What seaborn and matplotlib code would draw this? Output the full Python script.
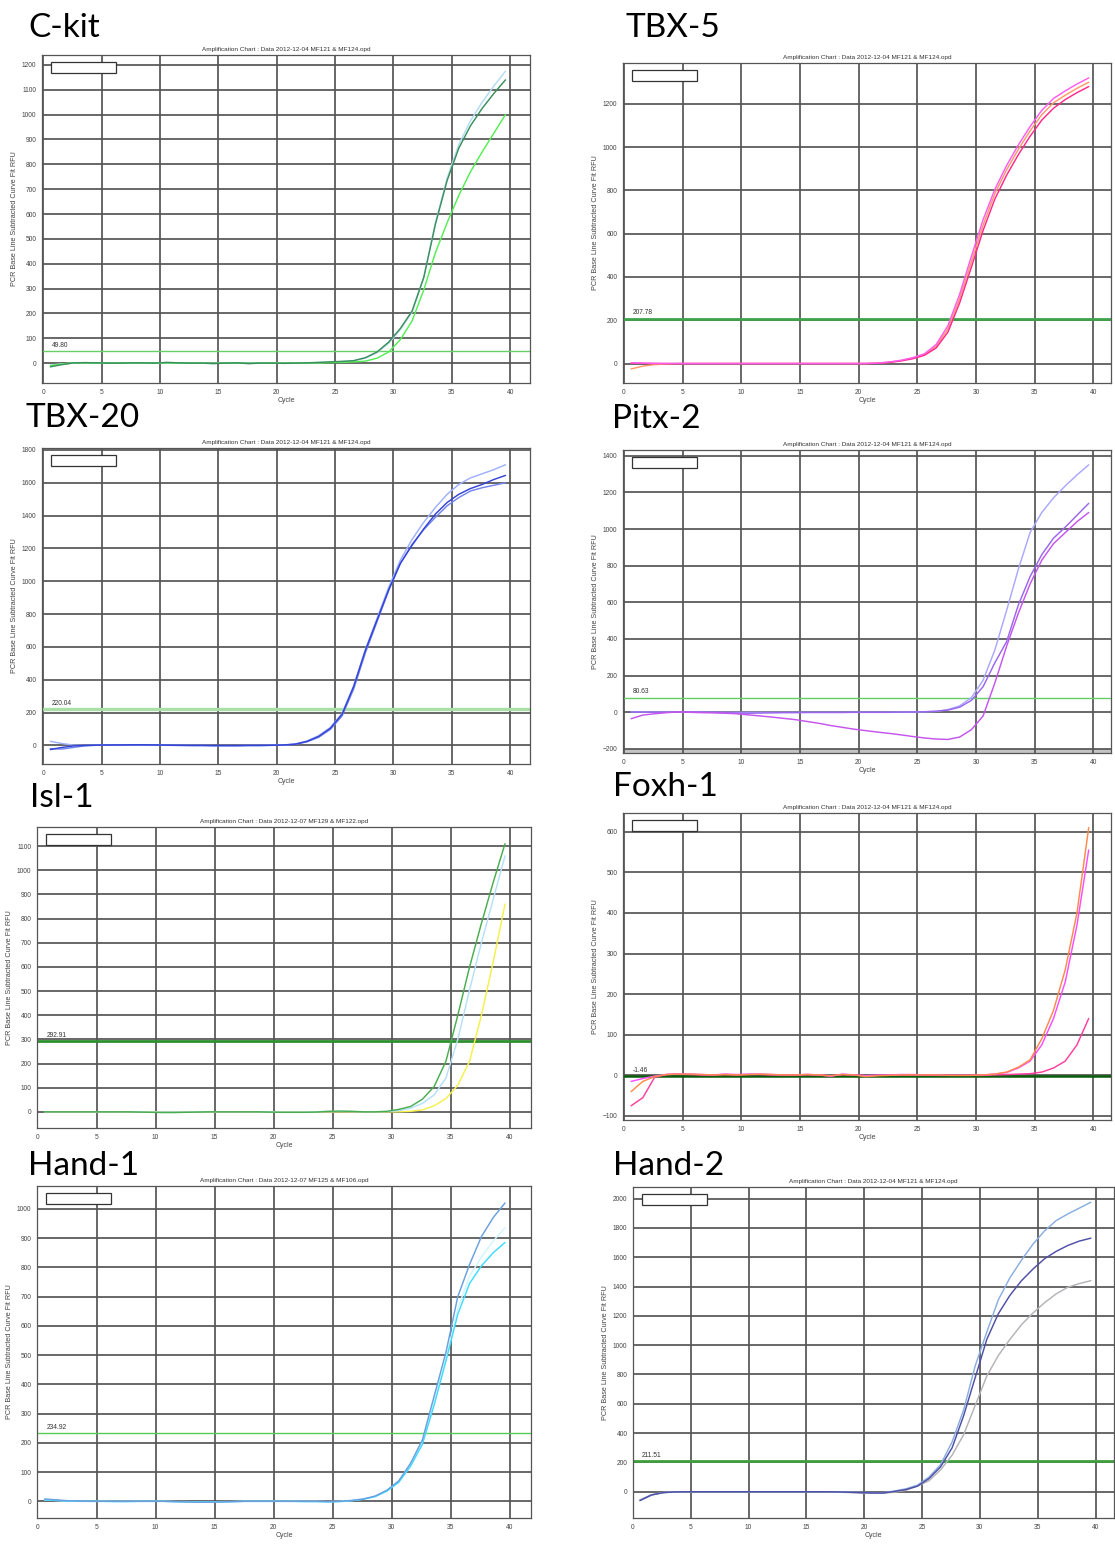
import numpy as np
import matplotlib
matplotlib.use("Agg")
import matplotlib.pyplot as plt
from matplotlib.patches import Rectangle
from matplotlib.ticker import MultipleLocator, AutoMinorLocator
import seaborn as sns

sns.set_style("white")
plt.rcParams['font.family'] = ['Liberation Sans', 'DejaVu Sans']

# ---------------- data ----------------
cycles = np.arange(40) + 0.6

gene_names = ["C-kit", "TBX-5", "TBX-20", "Pitx-2", "Isl-1", "Foxh-1", "Hand-1", "Hand-2"]
chart_titles = [
    "Amplification Chart : Data 2012-12-04 MF121 & MF124.opd",
    "Amplification Chart : Data 2012-12-04 MF121 & MF124.opd",
    "Amplification Chart : Data 2012-12-04 MF121 & MF124.opd",
    "Amplification Chart : Data 2012-12-04 MF121 & MF124.opd",
    "Amplification Chart : Data 2012-12-07 MF129 & MF122.opd",
    "Amplification Chart : Data 2012-12-04 MF121 & MF124.opd",
    "Amplification Chart : Data 2012-12-07 MF125 & MF106.opd",
    "Amplification Chart : Data 2012-12-04 MF121 & MF124.opd",
]
thresholds = [49.80, 207.78, 220.04, 80.63, 292.91, -1.46, 234.92, 211.51]
threshold_labels = ["49.80", "207.78", "220.04", "80.63", "292.91", "-1.46", "234.92", "211.51"]

ckit_ltblue = [-8, -3, 0, 1, 0, 0, 0, 0, 1, 0,
               1, 0, 0, 0, -1, 0, 0, 0, 0, 0,
               0, 0, 1, 2, 4, 6, 9, 20, 42, 80,
               135, 205, 345, 565, 745, 880, 975, 1050, 1115, 1175]
ckit_green = [-10, -4, 1, 1, 0, 0, 0, 1, 1, 0,
              1, 0, 0, 0, -1, 0, 0, -1, 0, 0,
              0, 0, 0, 1, 2, 3, 5, 8, 20, 45,
              95, 170, 295, 445, 565, 675, 770, 850, 925, 1000]
ckit_dkgreen = [-15, -6, 1, 2, 1, 0, 0, 1, 1, 0,
                3, 1, 0, 0, -2, 0, 1, -2, 0, 0,
                -1, 0, 1, 3, 5, 7, 10, 22, 45, 85,
                140, 210, 345, 560, 735, 865, 955, 1025, 1085, 1140]

tbx5_orange = [-25, -12, -5, -2, 0, 0, 0, 0, 0, 0,
               0, 0, 0, 0, 0, 0, 0, 0, 0, 0,
               0, 2, 6, 14, 25, 42, 80, 160, 300, 470,
               640, 785, 895, 990, 1075, 1150, 1205, 1240, 1272, 1300]
tbx5_magenta = [3, 2, 1, 0, 0, 0, 0, 0, 0, 0,
                0, 0, 0, 0, 0, 0, 0, 0, 0, 0,
                0, 2, 7, 15, 27, 45, 88, 175, 320, 495,
                665, 805, 915, 1010, 1095, 1170, 1225, 1260, 1292, 1320]
tbx5_pink = [2, 1, 0, 0, 0, 0, 0, 0, 0, 0,
             0, 0, 0, 0, 0, 0, 0, 0, 0, 0,
             0, 1, 5, 12, 22, 38, 72, 145, 280, 445,
             615, 760, 870, 965, 1050, 1125, 1180, 1220, 1252, 1280]

tbx20_light = [25, 12, 2, 0, 2, 3, 3, 3, 3, 2,
               1, 1, 0, 0, -1, -1, -1, 0, 0, 1,
               3, 9, 27, 60, 110, 195, 365, 585, 775, 965,
               1130, 1255, 1360, 1450, 1530, 1590, 1630, 1655, 1680, 1710]
tbx20_mid = [-20, -22, -12, -2, 1, 2, 3, 3, 3, 2,
             1, 0, 0, 0, -1, -1, -1, 0, 0, 1,
             2, 7, 22, 50, 98, 180, 345, 565, 755, 945,
             1110, 1225, 1315, 1390, 1460, 1510, 1550, 1570, 1585, 1600]
tbx20_dark = [-25, -12, -3, 0, 2, 3, 3, 4, 4, 3,
              2, 1, 0, 0, -1, -1, -1, 0, 0, 1,
              3, 8, 25, 55, 105, 190, 360, 580, 765, 950,
              1110, 1220, 1320, 1410, 1480, 1530, 1565, 1590, 1620, 1645]

pitx_light = [3, 2, 1, 1, 3, 2, 1, 0, 0, 0,
              0, 0, 0, 0, 0, 0, 0, 0, 0, 0,
              0, 0, 0, 1, 2, 3, 5, 15, 35, 80,
              175, 340, 555, 780, 980, 1090, 1170, 1235, 1295, 1350]
pitx_mid = [2, 1, 0, 0, 3, 2, 1, 0, -2, -4,
            -5, -4, -3, -2, -2, -1, -1, -1, -1, 0,
            0, 0, 0, 1, 2, 3, 6, 12, 28, 65,
            140, 270, 385, 585, 740, 860, 950, 1010, 1075, 1140]
pitx_magenta = [-35, -15, -8, -2, 2, 0, -2, -3, -5, -8,
                -14, -20, -26, -33, -40, -50, -60, -72, -82, -92,
                -100, -108, -115, -123, -132, -140, -146, -148, -135, -95,
                -20, 160, 360, 540, 700, 830, 920, 980, 1040, 1090]

isl_yellow = [0, 0, 0, 0, 0, 0, 0, 0, 0, 0,
              -1, -1, -1, 0, 0, 0, 0, 0, 0, 0,
              0, 0, 0, 0, 0, 0, 0, 0, 0, 0,
              0, 2, 8, 25, 55, 110, 210, 400, 620, 860]
isl_ltblue = [0, 0, 0, 0, 0, 0, 0, 0, 0, -1,
              -1, -1, -1, 0, 0, 0, 0, 0, 0, 0,
              -1, -1, -1, 0, 1, 2, 1, 0, 0, 1,
              5, 15, 35, 70, 140, 300, 505, 700, 880, 1060]
isl_green = [0, 0, 0, 0, 0, 0, 0, 0, -1, -2,
             -3, -3, -2, -1, 0, 0, 0, 0, 0, -1,
             -2, -2, -2, -1, 2, 3, 2, 0, 0, 2,
             10, 22, 52, 105, 210, 400, 600, 780, 950, 1110]

fox_orange = [-40, -15, -3, 2, 3, 3, 2, 1, 2, 1,
              2, 3, 2, 1, 1, 2, 1, -1, 2, 1,
              -3, -1, 0, 1, 1, 1, 1, 0, 0, 0,
              1, 3, 8, 20, 38, 90, 160, 260, 400, 610]
fox_magenta = [-15, -8, -2, 2, 3, 3, 2, 1, 3, 2,
               3, 3, 2, 1, 1, 2, 1, -2, 3, 1,
               -1, 0, 1, 2, 2, 1, 1, 0, 0, 0,
               1, 3, 7, 18, 35, 75, 140, 230, 370, 555]
fox_pink = [-75, -55, -5, 2, 3, 2, 1, 1, 2, 1,
            2, 2, 1, 1, 1, 2, 1, -2, 2, 1,
            -1, 0, 0, 1, 1, 1, 0, 0, 0, 0,
            0, 1, 2, 3, 4, 8, 18, 35, 75, 140]

hand1_pale = [5, 3, 1, 0, 0, 0, 0, 0, 0, 0,
              0, -1, -1, -2, -2, -1, -1, 0, 0, 0,
              0, 0, 0, 0, -1, 0, 3, 8, 17, 37,
              68, 125, 205, 345, 490, 660, 770, 835, 890, 935]
hand1_cyan = [5, 3, 1, 0, 0, 0, -1, -1, 0, 0,
              0, -1, -2, -2, -2, -2, -1, 0, 0, 0,
              0, 0, -1, -1, -2, -1, 2, 7, 16, 35,
              65, 120, 195, 330, 480, 640, 745, 805, 850, 885]
hand1_blue = [8, 5, 2, 1, 0, 0, 0, 0, 0, 0,
              0, -1, -2, -3, -3, -2, -1, 0, 0, 0,
              0, 0, 0, 0, -1, 0, 3, 8, 18, 38,
              70, 130, 210, 360, 510, 700, 810, 905, 970, 1020]

hand2_gray = [-55, -20, -5, -1, 0, 0, 0, 0, 0, 0,
              0, 0, 0, 0, 0, 0, 0, -2, -5, -8,
              -10, -10, -3, 10, 40, 75, 150, 250, 390, 590,
              790, 930, 1040, 1140, 1220, 1290, 1350, 1395, 1420, 1440]
hand2_ltblue = [-60, -22, -6, -1, 0, 0, 0, 0, 0, 0,
                0, 0, 0, 0, 0, 0, 0, -1, -2, -4,
                -6, -7, 5, 20, 45, 100, 185, 340, 560, 860,
                1090, 1310, 1460, 1580, 1690, 1780, 1850, 1895, 1935, 1975]
hand2_dark = [-60, -22, -6, -1, 0, 0, 0, 0, 0, 0,
              0, 0, 0, 0, 0, 0, 0, -1, -3, -6,
              -8, -9, 2, 15, 38, 90, 170, 300, 520, 780,
              1040, 1215, 1340, 1440, 1520, 1590, 1640, 1680, 1710, 1730]

panel_series = [
    [ckit_ltblue, ckit_green, ckit_dkgreen],
    [tbx5_orange, tbx5_pink, tbx5_magenta],
    [tbx20_light, tbx20_mid, tbx20_dark],
    [pitx_light, pitx_mid, pitx_magenta],
    [isl_yellow, isl_ltblue, isl_green],
    [fox_pink, fox_magenta, fox_orange],
    [hand1_pale, hand1_cyan, hand1_blue],
    [hand2_gray, hand2_ltblue, hand2_dark],
]

# ---------------- styles / layout ----------------
panel_colors = [
    ["#b3dcf0", "#55ee55", "#3a8f5c"],
    ["#ff9a6a", "#ff2a8a", "#ff5cf0"],
    ["#9fb0ff", "#7485ee", "#3344d6"],
    ["#aaa8ff", "#9a66ee", "#c455ee"],
    ["#f6f04a", "#b6e0fa", "#48ad50"],
    ["#ff3e9e", "#ff4cff", "#ff8a4a"],
    ["#d2f6ff", "#3fdcff", "#6a9fe0"],
    ["#b4b4b8", "#8aaee0", "#4f4fa8"],
]
thr_styles = [
    ("#66d066", 1.0), ("#3fa34a", 2.0), ("#a8e0a8", 2.4), ("#66cc66", 1.0),
    ("#2e8f2e", 2.0), ("#0a5c0a", 1.8), ("#55cc55", 1.0), ("#3f9f3f", 2.0),
]
# (left, right, top, bottom) in pixels
boxes = [
    (42, 530, 55, 383), (623, 1111, 63, 383),
    (42, 530, 448, 764), (623, 1111, 450, 753),
    (37, 531, 827, 1128), (623, 1111, 813, 1120),
    (37, 531, 1186, 1518), (633, 1114, 1187, 1518),
]
xlims = [(-0.11, 41.7), (-0.09, 41.5), (-0.11, 41.7), (-0.09, 41.5),
         (-0.04, 41.8), (-0.09, 41.5), (-0.04, 41.8), (0.0, 41.6)]
ylims = [(-80, 1240), (-90, 1389), (-113, 1812), (-222, 1431),
         (-67, 1179), (-110, 646), (-57, 1078), (-179, 2079)]
ysteps = [100, 200, 200, 200, 100, 100, 100, 200]
name_pos = [(28, 37), (626, 37), (25, 427), (612, 428),
            (30, 807), (613, 796), (28, 1175), (613, 1175)]

W, H = 1115, 1544
fig = plt.figure(figsize=(W / 100, H / 100), dpi=100)
fig.patch.set_facecolor("white")

grid_color = "#555555"

for i in range(8):
    L, R, T, B = boxes[i]
    ax = fig.add_axes([L / W, 1 - B / H, (R - L) / W, (B - T) / H])
    ax.set_facecolor("white")
    ax.set_xlim(*xlims[i])
    ax.set_ylim(*ylims[i])

    if i == 3:
        ax.axhspan(ylims[i][0], -200, color="#c4c4c4", zorder=0.5, lw=0)

    ax.xaxis.set_major_locator(MultipleLocator(5))
    ax.xaxis.set_minor_locator(MultipleLocator(1))
    ax.yaxis.set_major_locator(MultipleLocator(ysteps[i]))
    ax.yaxis.set_minor_locator(AutoMinorLocator(5))
    ax.grid(True, which="major", color=grid_color, lw=1.25, zorder=0.8)
    ax.set_axisbelow(True)

    tc, tlw = thr_styles[i]
    ax.axhline(thresholds[i], color=tc, lw=tlw, zorder=1.5)
    ax.annotate(threshold_labels[i], xy=(0.75, thresholds[i]), xytext=(0, 1.5),
                textcoords="offset points", fontsize=4.8, color="#333333",
                va="bottom", ha="left")

    for vals, col in zip(panel_series[i], panel_colors[i]):
        sns.lineplot(x=cycles, y=vals, color=col, linewidth=1.05, ax=ax,
                     legend=False, zorder=3)

    # empty legend box
    ax.add_patch(Rectangle((9 / (R - L), 1 - 18 / (B - T)), 65 / (R - L), 11 / (B - T),
                           transform=ax.transAxes, facecolor="white",
                           edgecolor="#333333", lw=0.9, zorder=5))

    for sp in ax.spines.values():
        sp.set_color("#555555")
        sp.set_linewidth(0.9)

    ax.tick_params(which="major", direction="out", length=2.5, width=0.6,
                   colors="#555555", labelsize=4.8, labelcolor="#444444", pad=1.5)
    ax.tick_params(which="minor", direction="in", length=2.2, width=0.5,
                   colors="#888888")
    ax.set_xlabel("Cycle", fontsize=5, color="#444444", labelpad=1)
    ax.set_ylabel("PCR Base Line Subtracted Curve Fit RFU", fontsize=5.2,
                  color="#444444", labelpad=3)
    ax.set_title(chart_titles[i], fontsize=4.6, color="#333333", pad=3)

    nx, ny = name_pos[i]
    fig.text(nx / W, 1 - ny / H, gene_names[i], fontsize=24, family="Lato",
             color="black", ha="left", va="baseline")

fig.savefig("out.png", dpi=100, facecolor="white")
